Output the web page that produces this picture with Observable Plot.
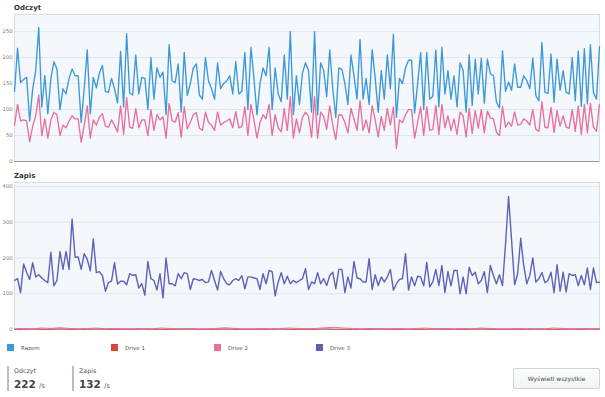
<!DOCTYPE html>
<html><head><meta charset="utf-8">
<script src="https://cdn.jsdelivr.net/npm/d3@7"></script>
<script src="https://cdn.jsdelivr.net/npm/@observablehq/plot@0.6"></script>
<style>
body{margin:0;width:605px;height:397px;background:#fff;font-family:"DejaVu Sans",sans-serif;position:relative;overflow:hidden}
.abs{position:absolute}
.title{font-weight:bold;font-size:7px;color:#333;line-height:8px}
.lg{font-size:5.5px;color:#555;line-height:8px}
.sq{width:7px;height:7px}
.bar{width:2px;background:#b8bec6}
.slab{font-size:6.3px;color:#555;line-height:7px}
.sval{font-size:10.5px;font-weight:bold;color:#444;line-height:12px}
.sval span{font-weight:normal;font-size:7px;color:#666;margin-left:3px}
.btn{border:1px solid #cdd3da;border-radius:2px;background:linear-gradient(#fdfdfe,#f1f3f6);font-size:6px;color:#444;text-align:center;line-height:19px}
</style></head><body>
<div class="abs title" style="left:14px;top:4px">Odczyt</div>
<div id="read" class="abs" style="left:0;top:12px"></div>
<div class="abs title" style="left:14px;top:172px">Zapis</div>
<div id="write" class="abs" style="left:0;top:180px"></div>
<div id="legend"></div>
<div class="abs bar" style="left:7px;top:366px;height:25px"></div>
<div class="abs slab" style="left:14px;top:367px">Odczyt</div>
<div class="abs sval" id="rv" style="left:14px;top:378px"></div>
<div class="abs bar" style="left:72px;top:366px;height:25px"></div>
<div class="abs slab" style="left:79px;top:367px">Zapis</div>
<div class="abs sval" id="wv" style="left:79px;top:378px"></div>
<div class="abs btn" style="left:513px;top:368px;width:85px;height:19px">Wyświetl wszystkie</div>
<script>
const seriesNames = ["Razem", "Drive 1", "Drive 2", "Drive 3"];
const seriesColors = ["#3d98da", "#d8463c", "#e8709a", "#5f60b8"];
const readTicks = [0, 50, 100, 150, 200, 250];
const writeTicks = [0, 100, 200, 300, 400];
const currentRead = 222;
const currentWrite = 132;

const razemRead = [135,218,152,158,162,78,140,175,258,105,165,92,160,192,178,100,140,130,160,178,165,165,75,140,215,92,162,142,170,185,135,133,160,140,113,212,105,246,132,128,205,130,162,160,100,200,120,180,162,172,90,225,155,152,188,95,210,127,150,180,188,128,
120,200,155,140,120,190,140,150,155,165,130,192,130,135,210,100,220,160,90,150,180,165,220,100,180,130,115,205,120,250,90,165,110,170,190,175,95,250,90,190,175,125,215,140,85,180,178,150,110,205,165,120,235,120,160,110,215,160,95,175,120,205,140,245,85,160,150,180,
195,195,93,150,210,100,210,120,125,215,105,220,130,175,120,165,105,190,175,95,205,108,197,130,199,112,197,169,165,114,103,213,135,153,137,188,143,143,165,156,140,199,127,117,229,133,131,207,114,197,137,175,133,130,200,117,213,106,217,111,225,133,120,221];

const drive2Read = [70,110,78,80,78,38,68,88,128,50,82,45,80,95,90,50,70,65,78,88,82,82,37,70,107,45,80,70,85,92,68,66,80,70,57,107,52,123,66,64,102,65,80,80,50,100,60,90,80,86,45,112,78,76,94,47,105,63,75,90,94,64,
60,95,75,70,60,95,70,75,78,82,65,96,65,67,105,50,110,80,45,75,90,82,110,50,90,65,57,102,60,125,45,82,55,85,95,87,47,125,45,95,87,62,107,70,42,90,89,75,55,102,82,60,117,60,80,55,107,80,47,87,60,102,70,105,25,80,75,90,
100,100,45,75,105,50,105,60,62,108,52,110,65,88,60,82,52,95,88,47,102,54,98,64,100,55,97,84,82,56,50,106,66,76,68,95,70,72,82,78,70,100,62,58,115,66,65,104,56,98,68,88,66,64,100,58,107,52,110,55,112,66,58,110];

const drive3Write = [137,142,103,183,160,140,187,147,153,144,137,131,216,122,137,218,168,218,168,309,202,203,168,212,196,164,253,159,162,151,107,131,135,187,127,135,135,125,156,151,153,116,128,96,190,142,137,110,156,88,200,128,128,122,156,142,159,156,112,142,140,137,140,131,133,
165,137,110,162,142,128,125,137,142,137,151,114,147,147,144,142,112,156,128,165,162,94,133,159,128,149,128,137,131,137,142,170,112,133,128,159,128,142,123,151,160,114,168,168,103,147,116,190,144,142,133,133,198,112,153,123,147,133,147,168,110,128,140,142,
212,110,147,122,149,147,122,188,119,133,168,123,179,103,162,122,165,165,100,147,100,174,151,160,128,137,162,103,179,151,128,153,123,239,372,249,125,156,255,179,128,151,200,133,142,159,131,137,160,103,181,107,160,105,156,151,153,123,151,125,172,112,172,131,132];

const drive2Write = [2,3,2,4,3,5,3,2,3,4,2,3,2,2,3,2,4,3,2,3,2,2,3,5,3,2,2,3,2,3,4,3,2,3,5,6,4,3,2,3,2,2,3,2,3,4,2,3,2,3,2,4,3,2,2,3,2,3,2,4,3,2,3,2,3];
const drive1Write = [1,1,2,1,1,2,1,1,1,2,1,1,1,1,2,1,1,1,1,2,1,1,1,2,1,1,1,1,1,2,1,1,1,1,2,1,1,1,1,1,2,1,1,1,1,1,2,1,1,1,1,2,1,1,1,1,1,2,1,1,1,1,1,2,1];

const FONT = "DejaVu Sans, sans-serif";
function base(n, yMax, ticks, marks){
  return Plot.plot({
    width: 605, height: 153, marginLeft: 14, marginRight: 6, marginTop: 2, marginBottom: 4,
    x: {axis: null, domain: [0, n - 1]},
    y: {axis: null, domain: [0, yMax]},
    style: {fontFamily: FONT, background: "transparent", overflow: "visible"},
    marks: [
      Plot.frame({fill: "#f4f8fd", stroke: "#d9dee5"}),
      Plot.gridY({ticks, stroke: "#dfe5ec", strokeOpacity: 1}),
      Plot.axisY({ticks, tickSize: 0, tickPadding: 2, fontSize: 5.2, fill: "#777", tickFormat: d => d}),
      ...marks
    ]
  });
}
const N = razemRead.length;
document.getElementById("read").append(base(N, 283, readTicks, [
  Plot.ruleY([0], {stroke: "#8a97a8", strokeWidth: 1}),
  Plot.lineY(razemRead, {x: (d, i) => i, y: d => d, stroke: seriesColors[0], strokeWidth: 1.35}),
  Plot.lineY(drive2Read, {x: (d, i) => i, y: d => d, stroke: seriesColors[2], strokeWidth: 1.35})
]));
const M = drive3Write.length;
const spread = arr => (d, i) => i * (M - 1) / (arr.length - 1);
document.getElementById("write").append(base(M, 411, writeTicks, [
  Plot.ruleY([0], {stroke: "#a6afbb", strokeWidth: 1}),
  Plot.lineY(drive1Write, {x: spread(drive1Write), y: d => d, stroke: seriesColors[1], strokeWidth: 1}),
  Plot.lineY(drive2Write, {x: spread(drive2Write), y: d => d, stroke: seriesColors[2], strokeWidth: 1}),
  Plot.lineY(drive3Write, {x: (d, i) => i, y: d => d, stroke: seriesColors[3], strokeWidth: 1.4})
]));

const lgX = [7, 111, 214, 316];
const lg = document.getElementById("legend");
seriesNames.forEach((name, i) => {
  const s = document.createElement("div");
  s.className = "abs sq"; s.style.left = lgX[i] + "px"; s.style.top = "344px"; s.style.background = seriesColors[i];
  const t = document.createElement("div");
  t.className = "abs lg"; t.style.left = (lgX[i] + 14) + "px"; t.style.top = "344px"; t.textContent = name;
  lg.append(s, t);
});
document.getElementById("rv").innerHTML = currentRead + "<span>/s</span>";
document.getElementById("wv").innerHTML = currentWrite + "<span>/s</span>";
</script>
</body></html>
